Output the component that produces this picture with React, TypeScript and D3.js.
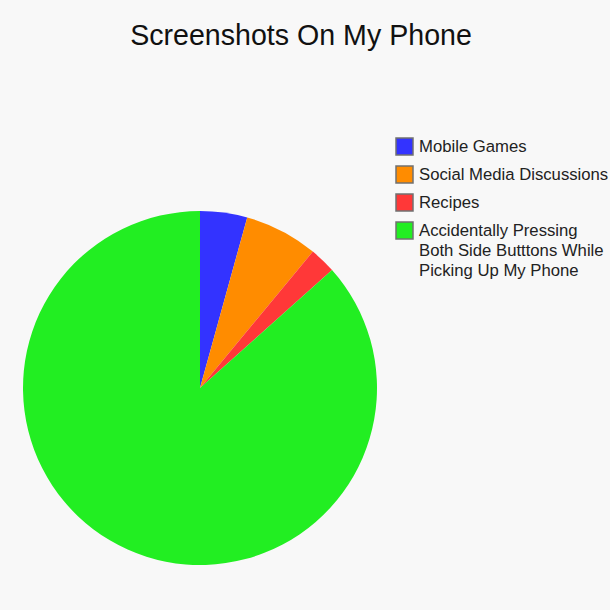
import * as d3 from "d3";

const categories = [
  "Mobile Games",
  "Social Media Discussions",
  "Recipes",
  "Accidentally Pressing Both Side Butttons While Picking Up My Phone",
];
const legendLines = [
  ["Mobile Games"],
  ["Social Media Discussions"],
  ["Recipes"],
  ["Accidentally Pressing", "Both Side Butttons While", "Picking Up My Phone"],
];
const values = [4.3, 6.7, 2.4, 86.6];
const colors = ["#3333ff", "#ff8c00", "#ff3838", "#22ee22"];

const W = 610;
const H = 610;

export default function App() {
  const cx = 200;
  const cy = 388;
  const r = 177;

  const pie = d3
    .pie<number>()
    .sort(null)
    .value((d) => d);
  const arcs = pie(values);
  const arc = d3.arc<d3.PieArcDatum<number>>().innerRadius(0).outerRadius(r);

  // legend rows: top of each swatch
  const rowY = d3.scaleLinear().domain([0, 1]).range([138, 166]);

  return (
    <div style={{ position: "absolute", left: 0, top: 0 }}>
      <svg width={W} height={H} style={{ display: "block" }}>
        <rect width={W} height={H} fill="#f8f8f8" />
        <text
          x={301}
          y={45}
          textAnchor="middle"
          fontFamily="Liberation Sans, Arial, sans-serif"
          fontSize={28.6}
          fill="#111"
        >
          Screenshots On My Phone
        </text>

        <g transform={`translate(${cx},${cy})`}>
          {arcs.map((a, i) => (
            <path key={categories[i]} d={arc(a) ?? ""} fill={colors[i]} />
          ))}
        </g>

        <g fontFamily="Liberation Sans, Arial, sans-serif" fontSize={16.7} fill="#222">
          {legendLines.map((lines, i) => {
            const y = rowY(i);
            return (
              <g key={categories[i]}>
                <rect
                  x={396}
                  y={y}
                  width={17}
                  height={17}
                  fill={colors[i]}
                  stroke="#707070"
                  strokeWidth={1.5}
                />
                {lines.map((line, j) => (
                  <text key={line} x={419} y={y + 14 + j * 20}>
                    {line}
                  </text>
                ))}
              </g>
            );
          })}
        </g>
      </svg>
    </div>
  );
}
